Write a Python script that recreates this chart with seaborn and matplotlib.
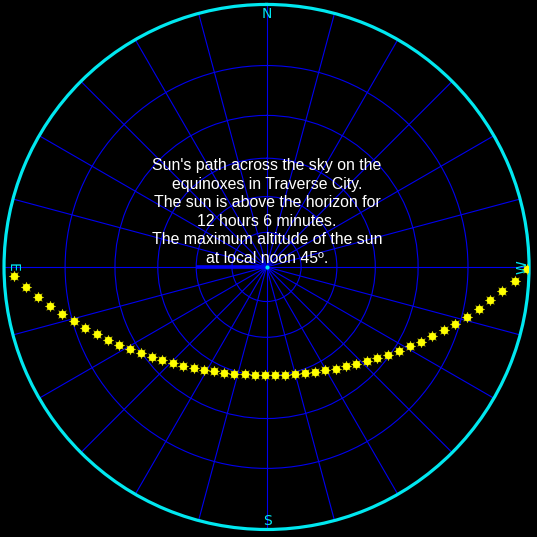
import numpy as np
import matplotlib
matplotlib.use('Agg')
import matplotlib.pyplot as plt
import seaborn as sns
import pandas as pd

# sun positions every 15 minutes on the equinox (azimuth from north, altitude in degrees)
azimuth = [92.15, 94.80, 97.47, 100.17, 102.92, 105.73, 108.60, 111.56, 114.61, 117.78,
           121.04, 124.49, 128.06, 131.82, 135.74, 139.86, 144.17, 148.67, 153.36, 158.23,
           163.26, 168.43, 173.69, 179.01, 184.33, 189.61, 194.82, 199.91, 204.84, 209.61,
           214.18, 218.56, 222.74, 226.74, 230.54, 234.19, 237.71, 241.01, 244.22, 247.31,
           250.31, 253.21, 256.04, 258.81, 261.52, 264.21, 266.86, 269.51]
altitude = [2.17, 4.82, 7.47, 10.10, 12.71, 15.29, 17.83, 20.34, 22.79, 25.18,
            27.49, 29.73, 31.88, 33.94, 35.85, 37.64, 39.28, 40.75, 42.04, 43.14,
            44.01, 44.66, 45.08, 45.24, 45.17, 44.85, 44.29, 43.49, 42.48, 41.25,
            39.84, 38.27, 36.53, 34.66, 32.66, 30.55, 28.35, 26.05, 23.69, 21.26,
            18.78, 16.24, 13.68, 11.08, 8.46, 5.81, 3.16, 0.50]
alt_rings = [15, 30, 45, 60, 75]
az_lines = list(range(0, 360, 15))
compass = ['N', 'E', 'S', 'W']
caption = ("Sun's path across the sky on the\n"
           "equinoxes in Traverse City.\n"
           "The sun is above the horizon for\n"
           "12 hours 6 minutes.\n"
           "The maximum altitude of the sun\n"
           "at local noon 45º.")

df = pd.DataFrame({'theta': np.radians(azimuth), 'zenith': 90 - np.array(altitude)})

BLUE = '#0000f0'
CYAN = '#00e8f0'

fig = plt.figure(figsize=(5.37, 5.37), dpi=100, facecolor='black')
ax = fig.add_axes([0.0075, 0.014, 0.9777, 0.9777], projection='polar', facecolor='black')
ax.set_theta_zero_location('N')
ax.set_theta_direction(1)

# stereographic sky projection: r = tan(zenith / 2)
ax.set_rscale('function', functions=(lambda z: np.tan(np.radians(z) / 2),
                                     lambda r: np.degrees(2 * np.arctan(r))))
ax.set_rlim(0, 90)

ax.set_rgrids([90 - a for a in alt_rings], labels=[''] * len(alt_rings))
ax.set_thetagrids(az_lines, labels=[''] * len(az_lines))
ax.grid(True, color=BLUE, lw=0.8)
ax.spines['polar'].set_color(CYAN)
ax.spines['polar'].set_linewidth(2.3)
ax.tick_params(length=0)

ax.plot([np.radians(90)] * 2, [0, 30], color=BLUE, lw=2.6, zorder=2,
        solid_capstyle='butt')
ax.plot([0], [0], 'o', color=CYAN, ms=2, zorder=4)

# sun glyphs: rays plus a round core
sns.scatterplot(data=df, x='theta', y='zenith', ax=ax, color='#ffff00',
                marker=(8, 1, 0), s=60, edgecolor='#b8b800', linewidth=0.3,
                zorder=3, legend=False)
sns.scatterplot(data=df, x='theta', y='zenith', ax=ax, color='#ffff00',
                marker='o', s=28, linewidth=0, zorder=3.1, legend=False)
ax.set_xlabel('')
ax.set_ylabel('')

lbl = dict(color=CYAN, fontsize=10, ha='center', va='center',
           transform=ax.transAxes, family='DejaVu Sans')
ax.text(0.501, 0.981, compass[0], **lbl)
ax.text(0.016, 0.5, compass[1], rotation=-90, **lbl)
ax.text(0.501, 0.017, compass[2], **lbl)
ax.text(0.987, 0.5, compass[3], rotation=90, **lbl)

fig.text(0.497, 0.605, caption, ha='center', va='center', color='white',
         fontsize=11.4, family='Liberation Sans', linespacing=1.29)

fig.savefig('out.png', dpi=100, facecolor='black')
